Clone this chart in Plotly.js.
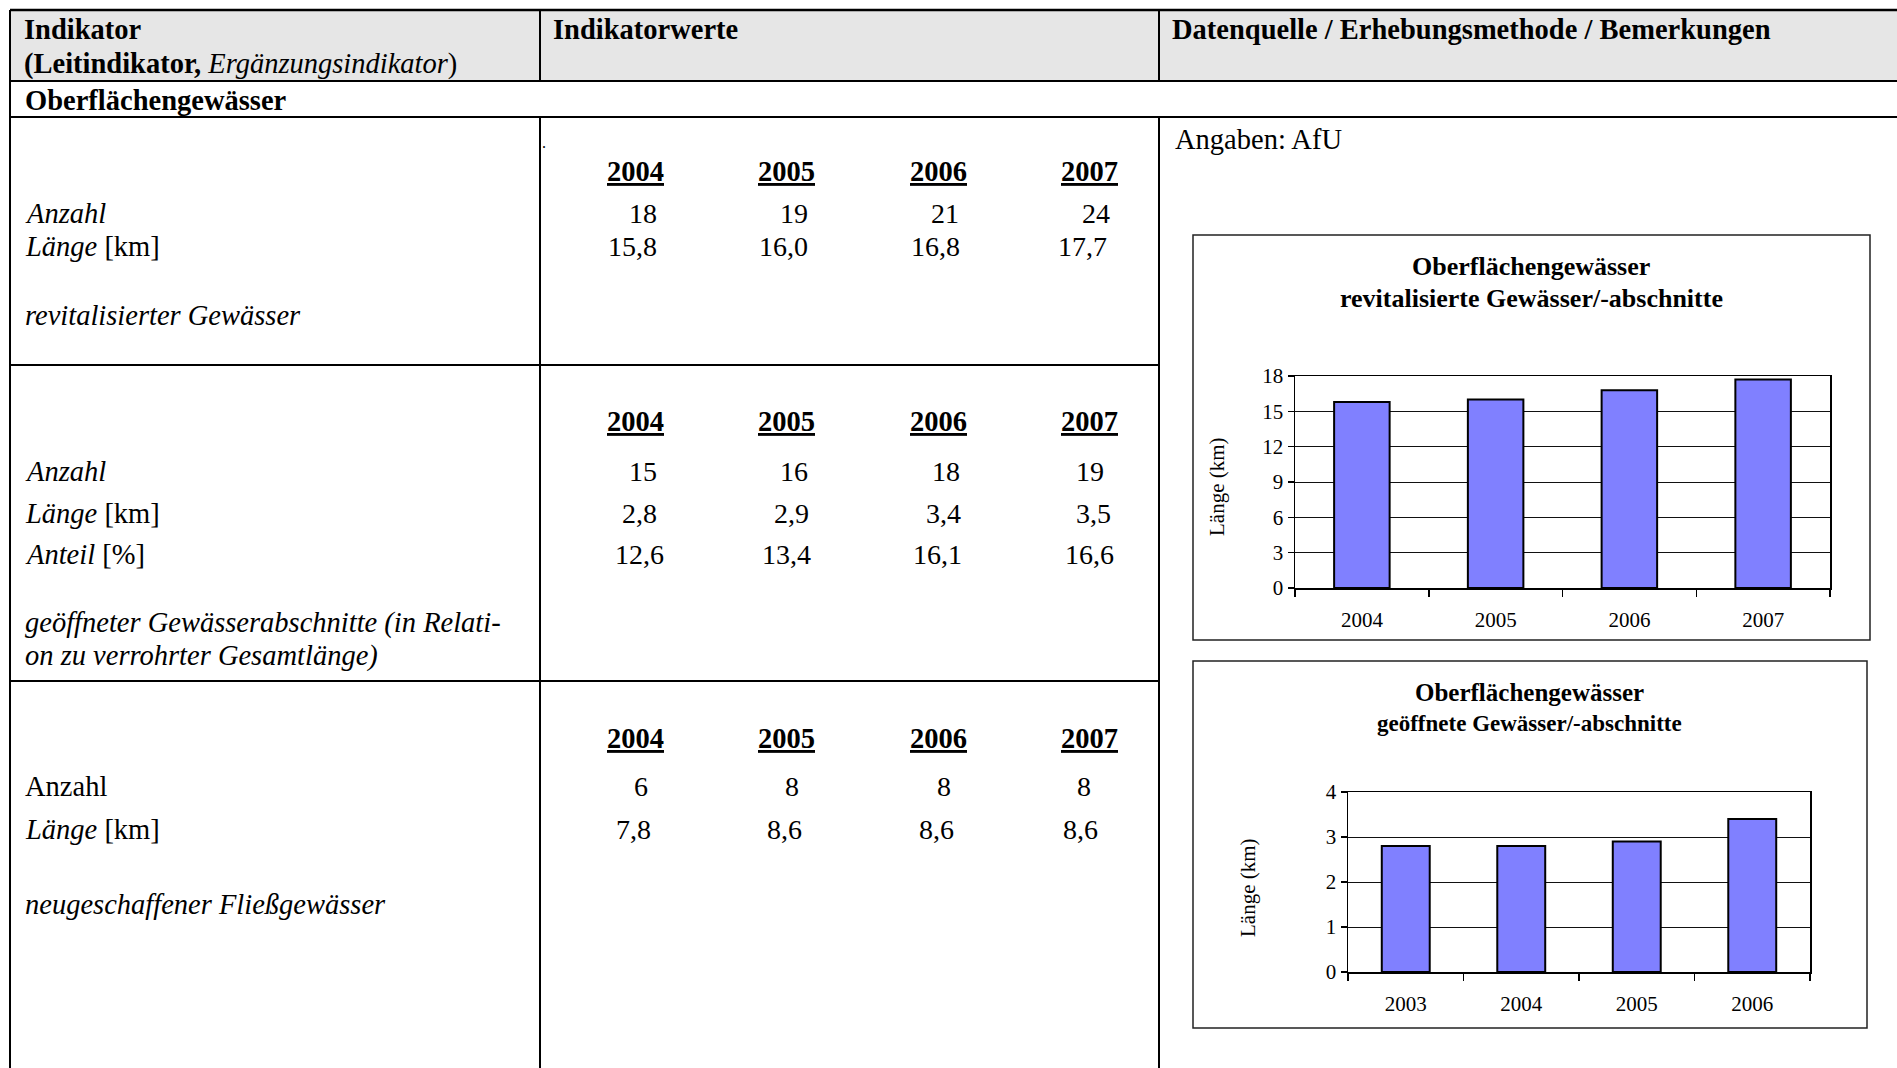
<!DOCTYPE html>
<html>
<head>
<meta charset="utf-8">
<script src="https://cdn.plot.ly/plotly-3.0.1.min.js"></script>
<style>
html,body{margin:0;padding:0;background:#fff;}
#chart{width:1897px;height:1068px;}
</style>
</head>
<body>
<div id="chart"></div>
<script>
// ---------- data ----------
const years = ['2004', '2005', '2006', '2007'];
const revAnzahl = [18, 19, 21, 24];
const revLaenge = [15.8, 16.0, 16.8, 17.7];
const geoAnzahl = [15, 16, 18, 19];
const geoLaenge = [2.8, 2.9, 3.4, 3.5];
const geoAnteil = [12.6, 13.4, 16.1, 16.6];
const neuAnzahl = [6, 8, 8, 8];
const neuLaenge = [7.8, 8.6, 8.6, 8.6];

const chart1Categories = ['2004', '2005', '2006', '2007'];
const chart1Values = [15.8, 16.0, 16.8, 17.7];
const chart2Categories = ['2003', '2004', '2005', '2006'];
const chart2Values = [2.8, 2.8, 2.9, 3.4];

const chart1Title = ['Oberflächengewässer', 'revitalisierte Gewässer/-abschnitte'];
const chart2Title = ['Oberflächengewässer', 'geöffnete Gewässer/-abschnitte'];
const yAxisLabel = 'Länge (km)';

// ---------- layout helpers ----------
const W = 1897, H = 1068;
const SERIF = '"Liberation Serif", "Times New Roman", Times, serif';
const X = p => p / W;
const Y = p => 1 - p / H;
const fmtInt = v => String(v);
const fmtDec = v => v.toFixed(1).replace('.', ',');

const annotations = [];
function txt(x, y, text, o) {
  o = o || {};
  annotations.push({
    xref: 'paper', yref: 'paper', x: X(x), y: Y(y), text: text, showarrow: false,
    xanchor: o.anchor || 'left', yanchor: 'middle', textangle: o.angle || 0,
    font: {family: SERIF, size: o.size || 28.5, color: '#000'}
  });
}

const shapes = [];
function line(x0, y0, x1, y1, w, c) {
  shapes.push({type: 'line', xref: 'paper', yref: 'paper', x0: X(x0), y0: Y(y0), x1: X(x1), y1: Y(y1),
    line: {color: c || '#000', width: w || 2}});
}
function rect(x0, y0, x1, y1, fill, lc, lw) {
  shapes.push({type: 'rect', xref: 'paper', yref: 'paper', layer: 'below', x0: X(x0), y0: Y(y0), x1: X(x1), y1: Y(y1),
    fillcolor: fill || 'rgba(0,0,0,0)', line: {color: lc || 'rgba(0,0,0,0)', width: lw || 0}});
}

// ---------- table frame ----------
rect(10, 10, W, 81, '#e6e6e6');
line(10, 10, W, 10, 2.5);
line(10, 81, W, 81, 2);
line(10, 117, W, 117, 2);
line(10, 365, 1159, 365, 2);
line(10, 681, 1159, 681, 2);
line(10, 10, 10, H, 2);
line(540, 10, 540, 81, 2);
line(540, 117, 540, H, 2);
line(1159, 10, 1159, 81, 2);
line(1159, 117, 1159, H, 2);

// chart boxes
rect(1193, 235, 1870, 640, 'rgba(0,0,0,0)', '#222', 1.5);
rect(1193, 661, 1867, 1028, 'rgba(0,0,0,0)', '#222', 1.5);

// ---------- header texts ----------
txt(22, 30, '<b>Indikator</b>');
txt(22, 64, '<b>(Leitindikator,</b> <i>Ergänzungsindikator</i>)');
txt(551, 30, '<b>Indikatorwerte</b>');
txt(1170, 30, '<b>Datenquelle / Erhebungsmethode / Bemerkungen</b>');
txt(23, 100, '<b>Oberflächengewässer</b>');
txt(1173, 139, 'Angaben: AfU');
txt(540, 143, '.', {size: 16});

// ---------- value rows ----------
const colCenters = [635, 786, 938, 1089];
function yearRow(y) {
  years.forEach((yr, i) => txt(colCenters[i], y, '<b><span style="text-decoration:underline">' + yr + '</span></b>', {anchor: 'center'}));
}
function valueRow(vals, f, y, shifts) {
  vals.forEach((v, i) => txt(colCenters[i] + shifts[i], y, f(v), {anchor: 'center', size: 28}));
}

const LX = 23;
// Section 1
yearRow(171);
txt(LX, 213, '<i>Anzahl</i>');
txt(LX, 247, '<i>Länge</i> [km]');
txt(LX, 315, '<i>revitalisierter Gewässer</i>');
valueRow(revAnzahl, fmtInt, 213, [8, 8, 7, 7]);
valueRow(revLaenge, fmtDec, 247, [-3, -3, -3, -7]);

// Section 2
yearRow(422);
txt(LX, 471, '<i>Anzahl</i>');
txt(LX, 513, '<i>Länge</i> [km]');
txt(LX, 554, '<i>Anteil</i> [%]');
txt(LX, 623, '<i>geöffneter Gewässerabschnitte (in Relati-</i>');
txt(LX, 656, '<i>on zu verrohrter Gesamtlänge)</i>');
valueRow(geoAnzahl, fmtInt, 471, [8, 8, 8, 1]);
valueRow(geoLaenge, fmtDec, 513, [4, 5, 5, 4]);
valueRow(geoAnteil, fmtDec, 554, [4, 0, -1, 0]);

// Section 3
yearRow(738);
txt(LX, 786, 'Anzahl');
txt(LX, 829, '<i>Länge</i> [km]');
txt(LX, 904, '<i>neugeschaffener Fließgewässer</i>');
valueRow(neuAnzahl, fmtInt, 786, [6, 6, 6, -5]);
valueRow(neuLaenge, fmtDec, 829, [-2, -2, -2, -9]);

// ---------- chart titles ----------
txt(1531, 266, '<b>' + chart1Title[0] + '</b>', {anchor: 'center', size: 26});
txt(1531, 298, '<b>' + chart1Title[1] + '</b>', {anchor: 'center', size: 26});
txt(1529, 692, '<b>' + chart2Title[0] + '</b>', {anchor: 'center', size: 25});
txt(1529, 723, '<b>' + chart2Title[1] + '</b>', {anchor: 'center', size: 23});
txt(1217, 487, yAxisLabel, {anchor: 'center', angle: -90, size: 21});
txt(1248, 888, yAxisLabel, {anchor: 'center', angle: -90, size: 21});

// ---------- charts ----------
const barStyle = {color: '#8080ff', line: {color: '#000', width: 2}};
const traces = [
  {type: 'bar', x: chart1Categories, y: chart1Values, xaxis: 'x', yaxis: 'y', marker: barStyle, hoverinfo: 'skip'},
  {type: 'bar', x: chart2Categories, y: chart2Values, xaxis: 'x2', yaxis: 'y2', marker: barStyle, hoverinfo: 'skip'}
];

function xAx(d0, d1, anchor) {
  return {
    domain: [X(d0), X(d1)], anchor: anchor, type: 'category',
    showline: true, linecolor: '#000', linewidth: 1.5, mirror: true,
    ticks: 'outside', ticklen: 7, tickwidth: 1.5, tickcolor: '#000', tickson: 'boundaries',
    showgrid: false, zeroline: false, ticklabelstandoff: 12,
    tickfont: {family: SERIF, size: 21, color: '#000'}, fixedrange: true
  };
}
function yAx(top, bottom, anchor, max, dt) {
  return {
    domain: [Y(bottom), Y(top)], anchor: anchor, range: [0, max], tick0: 0, dtick: dt,
    showline: true, linecolor: '#000', linewidth: 1.5, mirror: true,
    ticks: 'outside', ticklen: 6, tickwidth: 1.5, tickcolor: '#000',
    showgrid: true, gridcolor: '#111', gridwidth: 1, zeroline: false,
    tickfont: {family: SERIF, size: 21, color: '#000'}, fixedrange: true
  };
}

const layout = {
  width: W, height: H,
  margin: {l: 0, r: 0, t: 0, b: 0, pad: 0},
  paper_bgcolor: '#fff', plot_bgcolor: 'rgba(0,0,0,0)',
  showlegend: false, bargap: 0.585,
  font: {family: SERIF, color: '#000'},
  xaxis: xAx(1295, 1830, 'y'),
  yaxis: yAx(376, 588, 'x', 18, 3),
  xaxis2: xAx(1348, 1810, 'y2'),
  yaxis2: yAx(792, 972, 'x2', 4, 1),
  shapes: shapes,
  annotations: annotations
};

Plotly.newPlot('chart', traces, layout, {staticPlot: true, displayModeBar: false});
</script>
</body>
</html>
